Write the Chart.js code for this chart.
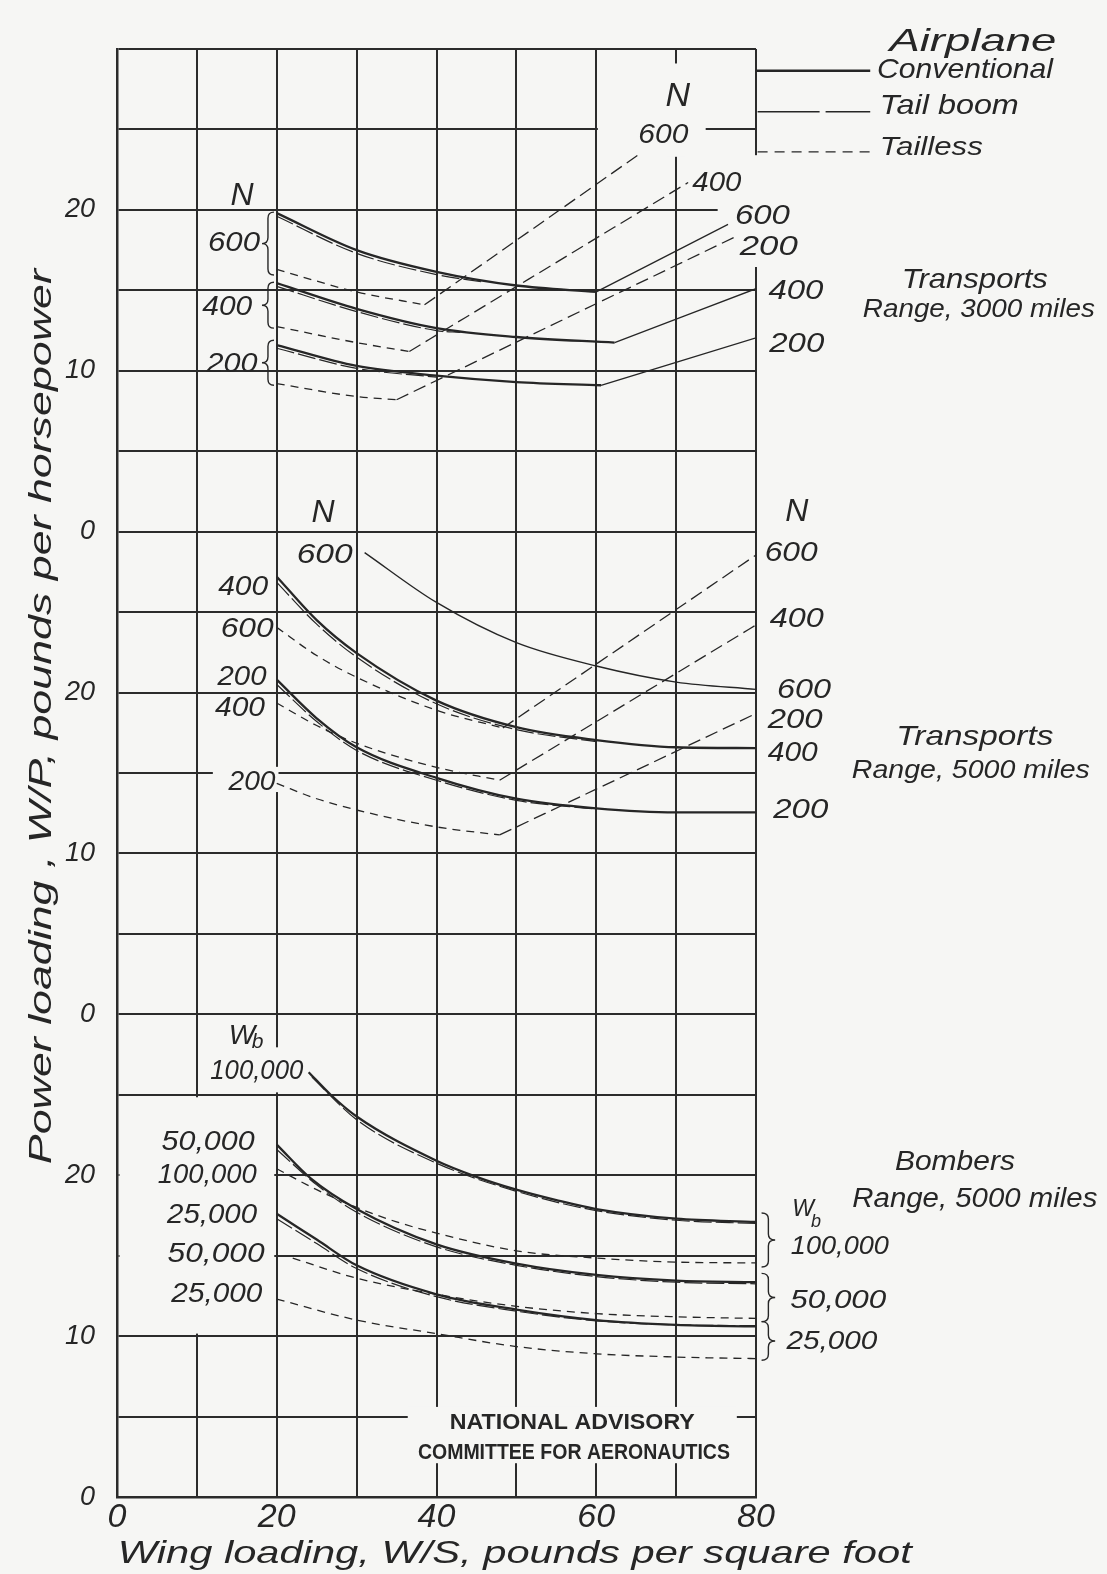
<!DOCTYPE html>
<html><head><meta charset="utf-8">
<script src="https://cdn.jsdelivr.net/npm/chart.js@4/dist/chart.umd.min.js"></script>
<style>html,body{margin:0;padding:0;background:#f6f6f4;}#wrap{width:1107px;height:1574px;}</style>
</head><body><div id="wrap"><canvas id="c" width="1107" height="1574"></canvas></div>
<script>
// ---------- DATA (panel units; [wing loading, power loading]) ----------
const xTickLabels = [0, 20, 40, 60, 80];
const yTickText = ['0','10','20','0','10','20','0','10','20'];   // at 0,10,...,80 on the stacked axis
const panelOffset = {bombers: 0, t5000: 30, t3000: 60};

// Transports, range 3000 miles
const t3_conv600 = [[20,19.8],[30,17.5],[40,16.15],[50,15.3],[60,14.9]];
const t3_conv600_rise = [[60,14.9],[76.5,19.1]];
const t3_conv400 = [[20,15.45],[30,13.85],[40,12.65],[50,12.1],[62.3,11.75]];
const t3_conv400_rise = [[62.3,11.75],[80,15.1]];
const t3_conv200 = [[20,11.6],[30,10.3],[40,9.7],[50,9.3],[60.6,9.1]];
const t3_conv200_rise = [[60.6,9.1],[80,12.05]];
const t3_boom600 = [[20,19.6],[30,17.3],[40,15.98],[46,15.5]];
const t3_boom400 = [[20,15.25],[30,13.68],[40,12.5],[43,12.38]];
const t3_boom200 = [[20,11.4],[30,10.15],[40,9.6]];
const t3_less600 = [[20,16.3],[30,14.9],[38.5,14.1]];
const t3_less600_rise = [[38.5,14.1],[65.2,23.4]];
const t3_less400 = [[20,12.75],[30,11.75],[36.6,11.2]];
const t3_less400_rise = [[36.6,11.2],[71.5,21.7]];
const t3_less200 = [[20,9.2],[30,8.4],[35,8.2]];
const t3_less200_rise = [[35,8.2],[77.3,18.3]];

// Transports, range 5000 miles
const t5_conv600 = [[31,28.7],[40,25.6],[50,23.1],[60,21.65],[70,20.65],[80,20.2]];
const t5_conv400 = [[20,27.2],[25,24.5],[30,22.45],[40,19.5],[50,17.85],[60,17.05],[70,16.6],[80,16.55]];
const t5_boom400 = [[20,26.85],[25,24.25],[30,22.2],[40,19.3],[50,17.7],[60,16.95]];
const t5_conv200 = [[20,20.8],[25,18.4],[30,16.6],[40,14.7],[50,13.4],[60,12.8],[70,12.55],[80,12.55]];
const t5_boom200 = [[20,20.5],[25,18.2],[30,16.4],[40,14.55],[50,13.3],[60,12.75]];
const t5_less600 = [[20,24.05],[25,22.3],[30,20.95],[40,18.9],[48.3,17.8]];
const t5_less600_rise = [[48.3,17.8],[80,28.55]];
const t5_less400 = [[20,19.35],[25,17.95],[30,16.85],[40,15.35],[47.9,14.55]];
const t5_less400_rise = [[47.9,14.55],[80,24.2]];
const t5_less200 = [[20,14.35],[25,13.4],[30,12.7],[40,11.65],[47.9,11.15]];
const t5_less200_rise = [[47.9,11.15],[80,18.7]];

// Bombers, range 5000 miles
const b_conv100k = [[24,26.4],[26.75,25.0],[30,23.65],[40,20.9],[45,19.9],[50,19.1],[55,18.45],[60,17.9],[70,17.3],[80,17.1]];
const b_boom100k = [[24.4,26.1],[30,23.45],[40,20.75],[50,19.0],[60,17.8],[70,17.2],[80,17.0]];
const b_less100k = [[20,20.4],[25,19.1],[30,18.0],[35,17.1],[40,16.4],[50,15.3],[60,14.85],[70,14.6],[80,14.55]];
const b_conv50k = [[20,21.9],[24.25,19.8],[30,17.9],[40,15.7],[50,14.5],[60,13.8],[70,13.45],[80,13.35]];
const b_boom50k = [[20,21.6],[25,19.4],[30,17.7],[40,15.55],[50,14.4],[60,13.7],[70,13.35],[80,13.25]];
const b_less50k = [[22,14.85],[30,13.6],[40,12.6],[50,11.85],[60,11.4],[70,11.2],[80,11.1]];
const b_conv25k = [[20,17.6],[25,16.0],[30,14.4],[40,12.6],[50,11.65],[60,11.0],[70,10.7],[80,10.6]];
const b_boom25k = [[20,17.3],[25,15.75],[30,14.2],[40,12.45],[50,11.55],[60,10.95],[70,10.7],[80,10.65]];
const b_less25k = [[20,12.3],[30,11.0],[40,10.15],[50,9.35],[60,8.9],[70,8.7],[80,8.6]];

// ---------- STYLE ----------
const BG = '#f6f6f4', INK = '#262626';
const ST = {
  conv: {w: 2.3, d: []},
  thin: {w: 1.4, d: []},
  boom: {w: 1.2, d: [18, 4]},
  less: {w: 1.3, d: [8, 6]},
  rise: {w: 1.3, d: []},
  lrise: {w: 1.3, d: [13, 6]}
};
function ds(pts, off, st){
  return {data: pts.map(p => ({x: p[0], y: p[1] + off})), showLine: true, pointRadius: 0,
    borderColor: INK, borderWidth: st.w, borderDash: st.d, cubicInterpolationMode: 'monotone', fill: false};
}
const o3 = panelOffset.t3000, o5 = panelOffset.t5000, ob = panelOffset.bombers;
const datasets = [
  ds(t3_conv600,o3,ST.conv), ds(t3_conv600_rise,o3,ST.rise),
  ds(t3_conv400,o3,ST.conv), ds(t3_conv400_rise,o3,ST.rise),
  ds(t3_conv200,o3,ST.conv), ds(t3_conv200_rise,o3,ST.rise),
  ds(t3_boom600,o3,ST.boom), ds(t3_boom400,o3,ST.boom), ds(t3_boom200,o3,ST.boom),
  ds(t3_less600,o3,ST.less), ds(t3_less600_rise,o3,ST.lrise),
  ds(t3_less400,o3,ST.less), ds(t3_less400_rise,o3,ST.lrise),
  ds(t3_less200,o3,ST.less), ds(t3_less200_rise,o3,ST.lrise),
  ds(t5_conv600,o5,ST.thin),
  ds(t5_conv400,o5,ST.conv), ds(t5_boom400,o5,ST.boom),
  ds(t5_conv200,o5,ST.conv), ds(t5_boom200,o5,ST.boom),
  ds(t5_less600,o5,ST.less), ds(t5_less600_rise,o5,ST.lrise),
  ds(t5_less400,o5,ST.less), ds(t5_less400_rise,o5,ST.lrise),
  ds(t5_less200,o5,ST.less), ds(t5_less200_rise,o5,ST.lrise),
  ds(b_conv100k,ob,ST.conv), ds(b_boom100k,ob,ST.boom), ds(b_less100k,ob,ST.less),
  ds(b_conv50k,ob,ST.conv), ds(b_boom50k,ob,ST.boom), ds(b_less50k,ob,ST.less),
  ds(b_conv25k,ob,ST.conv), ds(b_boom25k,ob,ST.boom), ds(b_less25k,ob,ST.less)
];

// ---------- ANNOTATIONS (data coordinates on the stacked axis) ----------
const labels = [
  {t:'Airplane', x:96.7, y:90.6, s:32, w:167, a:'left'},
  {t:'Conventional', x:95.15, y:88.8, s:28, w:176, a:'left'},
  {t:'Tail boom', x:95.5, y:86.6, s:28, w:139, a:'left'},
  {t:'Tailless', x:95.5, y:84.0, s:26, w:103, a:'left'},
  {t:'N', x:70.2, y:87.2, s:34, bg:1},
  {t:'600', x:68.4, y:84.8, s:28, w:50, bg:1},
  {t:'400', x:75.1, y:81.8, s:28, w:49, bg:1},
  {t:'600', x:80.8, y:79.75, s:28, w:55, bg:1},
  {t:'200', x:81.6, y:77.8, s:28, w:58, bg:1},
  {t:'400', x:85.0, y:75.1, s:28, w:55},
  {t:'200', x:85.1, y:71.8, s:28, w:55},
  {t:'Transports', x:107.4, y:75.8, s:28, w:146},
  {t:'Range, 3000 miles', x:107.9, y:73.95, s:26, w:232},
  {t:'N', x:15.65, y:81.05, s:32},
  {t:'600', x:14.65, y:78.05, s:28, w:52},
  {t:'400', x:13.8, y:74.1, s:28, w:50},
  {t:'200', x:14.4, y:70.55, s:28, w:51},
  {t:'N', x:25.8, y:61.3, s:32},
  {t:'600', x:26.0, y:58.7, s:28, w:56},
  {t:'400', x:15.8, y:56.7, s:28, w:50},
  {t:'600', x:16.3, y:54.1, s:28, w:53},
  {t:'200', x:15.65, y:51.1, s:28, w:49},
  {t:'400', x:15.4, y:49.15, s:28, w:50},
  {t:'200', x:16.9, y:44.6, s:28, w:47, bg:1},
  {t:'N', x:85.1, y:61.35, s:32},
  {t:'600', x:84.4, y:58.8, s:28, w:53},
  {t:'400', x:85.1, y:54.7, s:28, w:54},
  {t:'600', x:86.0, y:50.3, s:28, w:54},
  {t:'200', x:84.9, y:48.4, s:28, w:55},
  {t:'400', x:84.6, y:46.4, s:28, w:50},
  {t:'200', x:85.6, y:42.8, s:28, w:55},
  {t:'Transports', x:107.4, y:47.35, s:28, w:157},
  {t:'Range, 5000 miles', x:106.9, y:45.3, s:26, w:238},
  {t:'W', x:15.65, y:28.8, s:28},
  {t:'b', x:17.6, y:28.4, s:21},
  {t:'100,000', x:17.5, y:26.6, s:27, w:93, bg:1},
  {t:'50,000', x:11.4, y:22.2, s:27, w:93},
  {t:'100,000', x:11.3, y:20.15, s:27, w:99},
  {t:'25,000', x:11.9, y:17.65, s:27, w:90},
  {t:'50,000', x:12.4, y:15.2, s:27, w:97},
  {t:'25,000', x:12.5, y:12.7, s:27, w:91},
  {t:'W', x:85.9, y:17.95, s:23},
  {t:'b', x:87.5, y:17.2, s:18},
  {t:'100,000', x:90.5, y:15.7, s:26, w:98},
  {t:'50,000', x:90.3, y:12.3, s:26, w:96},
  {t:'25,000', x:89.5, y:9.75, s:26, w:91},
  {t:'Bombers', x:104.9, y:20.95, s:28, w:120},
  {t:'Range, 5000 miles', x:107.4, y:18.6, s:27, w:245},
  {t:'NATIONAL ADVISORY', x:57.0, y:4.7, s:22, w:245, b:1},
  {t:'COMMITTEE FOR AERONAUTICS', x:57.2, y:2.85, s:22, w:312, b:1}
];
const braces = [ // [tip x, back x, y1, y2]
  [18.15,19.65,79.86,75.95],[18.15,19.65,75.5,72.65],[18.15,19.65,71.9,69.1],
  [82.4,80.7,17.65,14.3],[82.4,80.7,13.9,10.9],[82.4,80.7,10.9,8.5]
];
const masks = [ // [x1,y1,x2,y2, inset px]
  [0,10,20,25,2.5],[19.4,25.15,20.6,27.95,0],[36.4,2.1,77.6,5.6,0],
  [68.8,83.3,71.2,89.1,0],[60.2,84.6,73.7,85.4,0],
  [75.2,79.6,80.6,80.4,0],[79.6,76.45,80.6,83.4,0],[12.0,44.7,19.85,45.3,0]
];
const legendItems = [ // [x1,x2,y, style]
  [80,94.3,88.65,{w:2.4,d:[]}],[80.2,94.3,86.1,{w:1.3,d:[62,6]}],[80.2,94.3,83.6,{w:1.3,d:[10,7]}]
];
const yTitle = {t:'Power loading , W/P, pounds per horsepower', x:-9.6, y:48.5, s:31, w:895};
const xTitle = {t:'Wing loading, W/S, pounds per square foot', x:49.8, y:-3.36, s:32, w:794};

function fontOf(L){ return L.b ? `bold ${L.s}px "Liberation Sans Narrow", "Liberation Sans", sans-serif` : `italic ${L.s}px "Liberation Sans", sans-serif`; }
function geom(ctx, L, xs, ys){
  ctx.font = fontOf(L);
  const w0 = ctx.measureText(L.t).width;
  const sx = L.w ? L.w / w0 : 1;
  const w = w0 * sx;
  const px = xs.getPixelForValue(L.x), py = ys.getPixelForValue(L.y);
  const left = L.a === 'left' ? px : px - w / 2;
  return {left, py, w, sx};
}
const annot = {
  id: 'annot',
  beforeDatasetsDraw(chart){
    const ctx = chart.ctx, xs = chart.scales.x, ys = chart.scales.y;
    ctx.save();
    ctx.fillStyle = BG;
    masks.forEach(m => {
      const x1 = xs.getPixelForValue(m[0]) + m[4], x2 = xs.getPixelForValue(m[2]) - m[4];
      const y1 = ys.getPixelForValue(m[3]) + m[4], y2 = ys.getPixelForValue(m[1]) - m[4];
      ctx.fillRect(x1, y1, x2 - x1, y2 - y1);
    });
    labels.filter(L => L.bg).forEach(L => {
      const g = geom(ctx, L, xs, ys);
      ctx.fillStyle = BG;
      ctx.fillRect(g.left - 3, g.py - L.s * 0.45, g.w + 6, L.s * 0.9);
    });
    ctx.restore();
  },
  afterDatasetsDraw(chart){
    const ctx = chart.ctx, xs = chart.scales.x, ys = chart.scales.y;
    ctx.save();
    ctx.fillStyle = INK; ctx.strokeStyle = INK;
    labels.forEach(L => {
      const g = geom(ctx, L, xs, ys);
      ctx.save(); ctx.translate(g.left, g.py + L.s * 0.36); ctx.scale(g.sx, 1);
      ctx.textAlign = 'left'; ctx.textBaseline = 'alphabetic'; ctx.fillStyle = INK;
      ctx.fillText(L.t, 0, 0); ctx.restore();
    });
    ctx.lineWidth = 1.4;
    braces.forEach(b => {
      const xt = xs.getPixelForValue(b[0]), xb = xs.getPixelForValue(b[1]);
      const y1 = ys.getPixelForValue(b[2]), y2 = ys.getPixelForValue(b[3]);
      const ym = (y1 + y2) / 2, xm = (xt + xb) / 2, r = Math.min(6, (y2 - y1) / 6);
      ctx.beginPath();
      ctx.moveTo(xb, y1);
      ctx.quadraticCurveTo(xm, y1, xm, y1 + r);
      ctx.lineTo(xm, ym - r);
      ctx.quadraticCurveTo(xm, ym, xt, ym);
      ctx.quadraticCurveTo(xm, ym, xm, ym + r);
      ctx.lineTo(xm, y2 - r);
      ctx.quadraticCurveTo(xm, y2, xb, y2);
      ctx.stroke();
    });
    legendItems.forEach(li => {
      ctx.beginPath(); ctx.lineWidth = li[3].w; ctx.setLineDash(li[3].d);
      const y = ys.getPixelForValue(li[2]);
      ctx.moveTo(xs.getPixelForValue(li[0]), y); ctx.lineTo(xs.getPixelForValue(li[1]), y); ctx.stroke();
    });
    ctx.setLineDash([]);
    [xTitle, yTitle].forEach((T, i) => {
      ctx.font = fontOf(T);
      const w0 = ctx.measureText(T.t).width, sx = T.w / w0;
      const cx = xs.getPixelForValue(T.x), cy = ys.getPixelForValue(T.y);
      ctx.save(); ctx.translate(cx, cy); if (i === 1) ctx.rotate(-Math.PI / 2);
      ctx.scale(sx, 1); ctx.textAlign = 'center'; ctx.textBaseline = 'alphabetic';
      ctx.fillText(T.t, 0, T.s * 0.36); ctx.restore();
    });
    ctx.restore();
  }
};

const gridCol = '#2b2b2b';
new Chart(document.getElementById('c'), {
  type: 'scatter',
  data: {datasets},
  options: {
    responsive: false, animation: false,
    layout: {padding: {left: 0, right: 351, top: 49, bottom: 0}},
    plugins: {legend: {display: false}, tooltip: {enabled: false}},
    scales: {
      x: {type: 'linear', min: 0, max: 80,
        afterFit: s => { s.height = 77; },
        ticks: {stepSize: 10, autoSkip: false, maxRotation: 0, padding: 0, color: INK,
          font: {family: 'Liberation Sans', size: 34, style: 'italic'},
          callback: v => xTickLabels.includes(v) ? String(v) : ''},
        grid: {color: gridCol, lineWidth: 2, drawTicks: false},
        border: {color: gridCol, width: 2.5}},
      y: {type: 'linear', min: 0, max: 90,
        afterFit: s => { s.width = 117; },
        ticks: {stepSize: 5, autoSkip: false, padding: 22, color: INK,
          font: {family: 'Liberation Sans', size: 27, style: 'italic'},
          callback: v => (v % 10 === 0 && v < 90) ? yTickText[v / 10] : ''},
        grid: {color: gridCol, lineWidth: 2, drawTicks: false},
        border: {color: gridCol, width: 2.5}}
    }
  },
  plugins: [{id: 'bg', beforeDraw(c){ const x = c.ctx; x.save(); x.fillStyle = BG; x.fillRect(0, 0, c.width, c.height); x.restore(); }}, annot]
});
</script></body></html>
